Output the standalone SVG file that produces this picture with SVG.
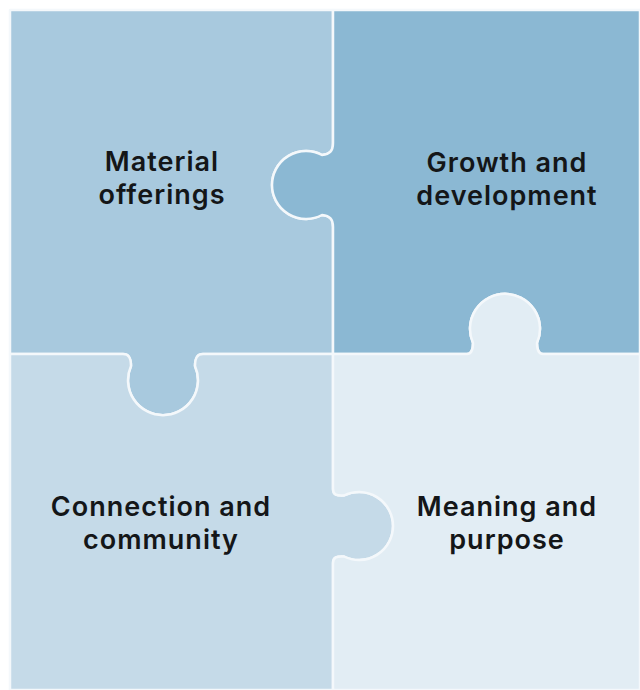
<svg xmlns="http://www.w3.org/2000/svg" width="640" height="690" viewBox="0 0 640 690">
<style>
.piece{stroke:#f4f8fb;stroke-width:2.5;stroke-linejoin:round}
.lbl{font-family:Inter,"Liberation Sans",sans-serif;font-weight:600;font-size:27px;letter-spacing:1px;fill:#141618;text-anchor:middle}
</style>
<rect width="640" height="690" fill="#ffffff"/>
<g id="connectors"></g>
<g id="node-material">
<path class="piece" fill="#a8c9de" d="M10,10 H333 V143 C333,151 330,154 322,155 A34 34 0 1 0 322 215 C330,216 333,219 333,227 V354 H203 C197,354 195,358 195,366 A35 35 0 1 1 131 366 C131,358 129,354 123,354 H10 Z"/>
<text class="lbl" x="162" y="171">Material</text>
<text class="lbl" x="162" y="204">offerings</text>
</g>
<g id="node-growth">
<path class="piece" fill="#8bb8d3" d="M333,10 H640 V354 H543 C539,354 537,350 537,343 A35 35 0 1 0 473 343 C473,350 471,354 467,354 H333 V227 C333,219 330,216 322,215 A34 34 0 1 1 322 155 C330,154 333,151 333,143 Z"/>
<text class="lbl" x="507" y="172">Growth and</text>
<text class="lbl" x="507" y="205">development</text>
</g>
<g id="node-connection">
<path class="piece" fill="#c5dae8" d="M10,354 H123 C129,354 131,358 131,366 A35 35 0 1 0 195 366 C195,358 197,354 203,354 H333 V489 C333,495 337,496 344,495.5 A34 34 0 1 1 344 556.5 C337,556 333,557 333,563 V690 H10 Z"/>
<text class="lbl" x="161" y="516">Connection and</text>
<text class="lbl" x="161" y="549">community</text>
</g>
<g id="node-meaning">
<path class="piece" fill="#e2edf4" d="M333,354 H467 C471,354 473,350 473,343 A35 35 0 1 1 537 343 C537,350 539,354 543,354 H640 V690 H333 V563 C333,557 337,556 344,556.5 A34 34 0 1 0 344 495.5 C337,496 333,495 333,489 Z"/>
<text class="lbl" x="507" y="516">Meaning and</text>
<text class="lbl" x="507" y="549">purpose</text>
</g>
</svg>
